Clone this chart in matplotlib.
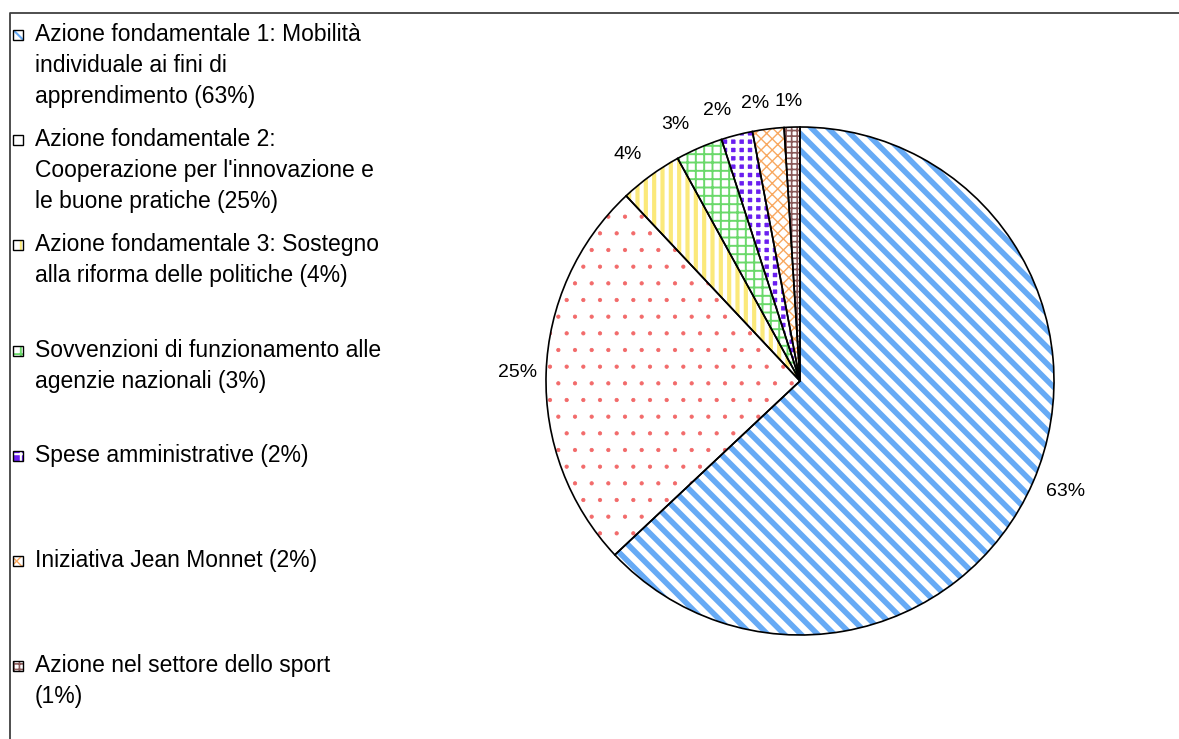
import matplotlib
matplotlib.use("Agg")
import matplotlib.pyplot as plt
from matplotlib.patches import Rectangle
from matplotlib.lines import Line2D

plt.rcParams['font.family'] = ['Liberation Sans', 'DejaVu Sans']

# data
categories = [
    "Azione fondamentale 1: Mobilità\nindividuale ai fini di\napprendimento (63%)",
    "Azione fondamentale 2:\nCooperazione per l'innovazione e\nle buone pratiche (25%)",
    "Azione fondamentale 3: Sostegno\nalla riforma delle politiche (4%)",
    "Sovvenzioni di funzionamento alle\nagenzie nazionali (3%)",
    "Spese amministrative (2%)",
    "Iniziativa Jean Monnet (2%)",
    "Azione nel settore dello sport\n(1%)",
]
shares = [63, 25, 4, 3, 2, 2, 1]
pct_labels = [f"{v}%" for v in shares]

# fill styles (hatch colour, face colour, hatch, hatch width)
hatch_colors = ['#66aaf5', '#f26a6a', '#fbe97a', '#6ad96a', 'white', '#f8a860', '#8a5a5a']
face_colors = ['white', 'white', 'white', 'white', '#6a1ff0', 'white', 'white']
hatches = ['\\\\', '.', '||', '++', '++', 'xxx', '+++']
hatch_widths = [4.0, 0.6, 3.0, 1.4, 2.8, 1.0, 1.2]
# horizontal nudge of the % labels, px
label_nudge = [9, -3, -8, -14, -13, -10, -3]

W, H = 1179, 739
fig = plt.figure(figsize=(W / 100, H / 100), dpi=100)


def set_hatch_lw(patch, lw):
    # hatch width is read from rcParams at draw time, so wrap the draw
    if hasattr(patch, 'set_hatch_linewidth'):
        patch.set_hatch_linewidth(lw)
    orig = patch.draw

    def draw(renderer):
        with plt.rc_context({'hatch.linewidth': lw}):
            orig(renderer)
    patch.draw = draw


# pie: centre (800, 381) px, radius 254 px
cx, cy, r = 800, 381, 254
ax = fig.add_axes([(cx - r) / W, (H - cy - r) / H, 2 * r / W, 2 * r / H])

wedges, _ = ax.pie(shares, startangle=90, counterclock=False,
                   wedgeprops=dict(linewidth=0))
for w, hc, fc, h, lw in zip(wedges, hatch_colors, face_colors, hatches, hatch_widths):
    w.set_facecolor(fc)
    w.set_edgecolor(hc)
    w.set_linewidth(0)
    w.set_hatch(h)
    set_hatch_lw(w, lw)

outline, texts = ax.pie(shares, startangle=90, counterclock=False,
                        labels=pct_labels, labeldistance=1.1,
                        wedgeprops=dict(facecolor='none', edgecolor='black',
                                        linewidth=1.2),
                        textprops=dict(fontsize=14, color='black'))
for t, dx in zip(texts, label_nudge):
    x, y = t.get_position()
    t.set_position((x + dx / r, y))
    t.set_ha('center')
    t.set_va('center')
ax.set_xlim(-1, 1)
ax.set_ylim(-1, 1)
ax.set_aspect('auto')

# legend on the left, entries spaced evenly, one text per line
leg_top, leg_step, line_step = 41, 105.2, 31
for i, (lab, hc, fc, h, lw) in enumerate(zip(categories, hatch_colors, face_colors,
                                            hatches, hatch_widths)):
    base = leg_top + i * leg_step
    sq = Rectangle((13 / W, 1 - (base - 1) / H), 10 / W, 10 / H,
                   transform=fig.transFigure, facecolor=fc, edgecolor=hc,
                   hatch=h, linewidth=0)
    set_hatch_lw(sq, min(lw, 1.5))
    fig.add_artist(sq)
    fig.add_artist(Rectangle((13 / W, 1 - (base - 1) / H), 10 / W, 10 / H,
                             transform=fig.transFigure, facecolor='none',
                             edgecolor='black', linewidth=1.0))
    for k, line in enumerate(lab.split('\n')):
        fig.text(35 / W, 1 - (base + k * line_step) / H, line, fontsize=16.5,
                 va='baseline', ha='left', color='black')

# chart-area border (top and left visible)
fig.add_artist(Line2D([10 / W, 10 / W, 1.0], [0.0, 1 - 13 / H, 1 - 13 / H],
                      transform=fig.transFigure, color='#404040', linewidth=1.3))

fig.savefig('out.png', dpi=100)
